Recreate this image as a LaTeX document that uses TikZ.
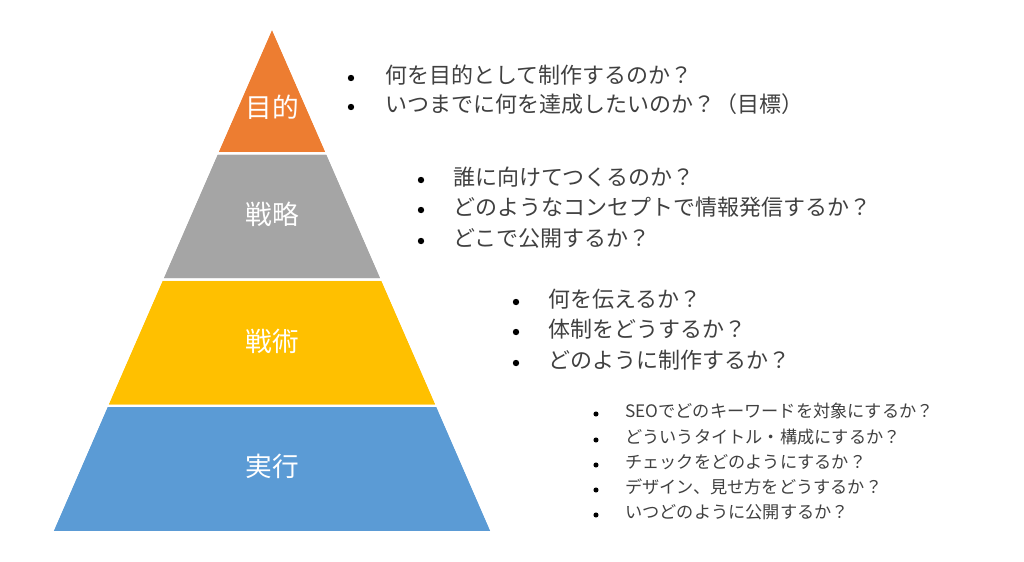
\documentclass[tikz,border=0pt]{standalone}
\usepackage{fontspec}
\setmainfont{Noto Sans CJK JP}
\definecolor{lvorange}{HTML}{ED7D31}
\definecolor{lvgray}{HTML}{A5A5A5}
\definecolor{lvyellow}{HTML}{FFC000}
\definecolor{lvblue}{HTML}{5B9BD5}
\definecolor{txtgray}{HTML}{404040}
\tikzset{
  layer/.style={draw=white, line width=1.5},
  layerlabel/.style={text=white, font=\fontsize{20}{23}\selectfont},
  item/.style={anchor=west, inner sep=0pt, text=txtgray, font=\fontsize{16.5}{19}\selectfont},
  smallitem/.style={item, font=\fontsize{12.9}{15}\selectfont},
  dot/.style={circle, fill=black, inner sep=0pt, minimum size=4.8pt},
  smalldot/.style={dot, minimum size=3.8pt}
}
\begin{document}
\begin{tikzpicture}[x=0.75pt, y=-0.75pt]
\useasboundingbox (0,0) rectangle (1024,561);
\def\ax{272}
\def\yone{153.25}
\def\ytwo{279.5}
\def\ythree{405.75}
\def\ybase{532}

% pyramid layers
\fill[layer, fill=lvorange] (\ax,27) -- (327.1,\yone) -- (216.9,\yone) -- cycle;
\fill[layer, fill=lvgray] (216.9,\yone) -- (327.1,\yone) -- (382.1,\ytwo) -- (161.9,\ytwo) -- cycle;
\fill[layer, fill=lvyellow] (161.9,\ytwo) -- (382.1,\ytwo) -- (437.1,\ythree) -- (106.9,\ythree) -- cycle;
\fill[layer, fill=lvblue] (106.9,\ythree) -- (437.1,\ythree) -- (492,\ybase) -- (52,\ybase) -- cycle;
\draw[layer] (\ax,27) -- (327.1,\yone) -- (216.9,\yone) -- cycle;
\draw[layer] (216.9,\yone) -- (327.1,\yone) -- (382.1,\ytwo) -- (161.9,\ytwo) -- cycle;
\draw[layer] (161.9,\ytwo) -- (382.1,\ytwo) -- (437.1,\ythree) -- (106.9,\ythree) -- cycle;
\draw[layer] (106.9,\ythree) -- (437.1,\ythree) -- (492,\ybase) -- (52,\ybase) -- cycle;

\node[layerlabel] (mokuteki) at (\ax,107) {目的};
\node[layerlabel] (senryaku) at (\ax,214) {戦略};
\node[layerlabel] (senjutsu) at (\ax,341) {戦術};
\node[layerlabel] (jikko) at (\ax,466) {実行};

% purpose
\node[dot] (d1a) at (351,78) {};
\node[item] (t1a) at (385,75) {何を目的として制作するのか？};
\node[dot] (d1b) at (351,107) {};
\node[item] (t1b) at (385,104) {いつまでに何を達成したいのか？（目標）};

% strategy
\node[dot] (d2a) at (421,180) {};
\node[item] (t2a) at (453,177) {誰に向けてつくるのか？};
\node[dot] (d2b) at (421,210) {};
\node[item] (t2b) at (453,207) {どのようなコンセプトで情報発信するか？};
\node[dot] (d2c) at (421,241) {};
\node[item] (t2c) at (453,238) {どこで公開するか？};

% tactics
\node[dot] (d3a) at (516,302) {};
\node[item] (t3a) at (548,299) {何を伝えるか？};
\node[dot] (d3b) at (516,332) {};
\node[item] (t3b) at (548,329) {体制をどうするか？};
\node[dot] (d3c) at (516,363) {};
\node[item] (t3c) at (548,360) {どのように制作するか？};

% execution
\node[smalldot] (d4a) at (596,414) {};
\node[smallitem] (t4a) at (625,411) {SEOでどのキーワードを対象にするか？};
\node[smalldot] (d4b) at (596,440) {};
\node[smallitem] (t4b) at (625,437) {どういうタイトル・構成にするか？};
\node[smalldot] (d4c) at (596,465) {};
\node[smallitem] (t4c) at (625,462) {チェックをどのようにするか？};
\node[smalldot] (d4d) at (596,490) {};
\node[smallitem] (t4d) at (625,487) {デザイン、見せ方をどうするか？};
\node[smalldot] (d4e) at (596,515) {};
\node[smallitem] (t4e) at (625,512) {いつどのように公開するか？};
\end{tikzpicture}
\end{document}
